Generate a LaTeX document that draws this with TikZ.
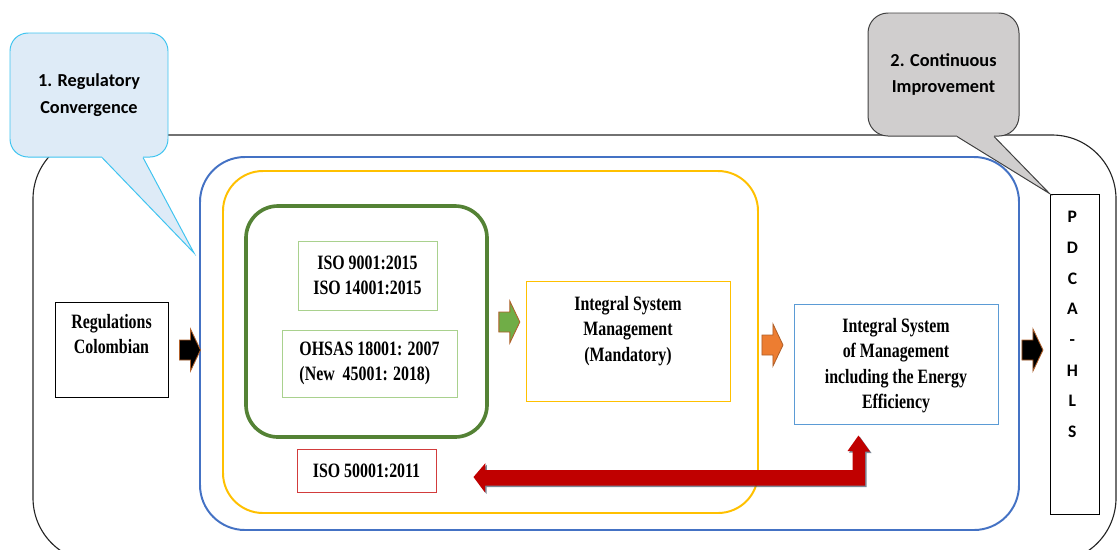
\documentclass[tikz,border=0pt]{standalone}
\usepackage{fontspec}
\setmainfont{Liberation Serif}[FakeStretch = 0.78]
\newfontfamily\calfont{Carlito}
\usepackage{tikz}
\usetikzlibrary{positioning,calc}

\definecolor{boxblue}{HTML}{4472C4}
\definecolor{boxyellow}{HTML}{FFC000}
\definecolor{boxgreen}{HTML}{548235}
\definecolor{lightgreen}{HTML}{A9D18E}
\definecolor{lightblue}{HTML}{5B9BD5}
\definecolor{isored}{HTML}{D23C3C}
\definecolor{darkred}{HTML}{C00000}
\definecolor{arrgreen}{HTML}{70AD47}
\definecolor{arrorange}{HTML}{ED7D31}
\definecolor{arredge}{HTML}{B0602A}
\definecolor{callblue}{HTML}{DEEBF7}
\definecolor{callcyan}{HTML}{3FC4F0}
\definecolor{callgray}{HTML}{D0CECE}
\definecolor{shadowblue}{HTML}{44546A}

\newcommand{\pxu}{0.025cm}

\tikzset{
  stdbox/.style = {draw, shape = rectangle, line width = 0.7pt, inner sep = 0pt},
  boxtext/.style = {font = \bfseries\fontsize{14.5}{18}\selectfont, align = center, inner sep = 0pt},
  calltext/.style = {font = \calfont\bfseries\fontsize{13}{19}\selectfont, align = center},
  blockarrow/.pic = {\path[pic actions] (-11,-10) -- (0,-10) -- (0,-21) -- (10,0) -- (0,21) -- (0,10) -- (-11,10) -- cycle;},
  redarrow/.style = {fill = darkred, preaction = {fill = shadowblue, opacity = 0.7, transform canvas = {shift = {(1.5,1.5)}}}}
}

\begin{document}
\begin{tikzpicture}[x = \pxu, y = -\pxu]
\useasboundingbox (0,0) rectangle (1118,549);

\node[stdbox, draw = black!85, line width = 0.8pt, rounded corners = 1.6cm, minimum width = 1083*\pxu, minimum height = 427*\pxu] (frame) at (574.5,348.5) {};
\node[stdbox, draw = boxblue, line width = 1.4pt, rounded corners = 1.125cm, minimum width = 819*\pxu, minimum height = 373*\pxu] (blueframe) at (609.5,343.5) {};
\node[stdbox, draw = boxyellow, line width = 1.4pt, rounded corners = 1cm, minimum width = 535*\pxu, minimum height = 342*\pxu] (yellowframe) at (490.5,342) {};
\node[stdbox, draw = boxgreen, line width = 2.6pt, rounded corners = 0.8cm, minimum width = 241*\pxu, minimum height = 231*\pxu] (greenframe) at (366.5,321.5) {};

\node[stdbox, boxtext, draw = lightgreen, minimum width = 139*\pxu, minimum height = 69*\pxu] (iso) at (367.5,275.5) {ISO 9001:2015\\ISO 14001:2015};
\node[stdbox, boxtext, align = left, draw = lightgreen, minimum width = 175*\pxu, minimum height = 67*\pxu] (ohsas) at (369.5,363.5) {OHSAS 18001: 2007\\(New\ \ 45001: 2018)};
\node[stdbox, boxtext, draw = isored, minimum width = 139*\pxu, minimum height = 43*\pxu] (iso50) at (366.5,470.5) {ISO 50001:2011};

\node[stdbox, draw = boxyellow, minimum width = 204*\pxu, minimum height = 120*\pxu] (ism) at (628,341) {};
\node[boxtext, below = 11pt of ism.north] (ismtext) {Integral System\\Management\\(Mandatory)};
\node[stdbox, draw = lightblue, minimum width = 204*\pxu, minimum height = 120*\pxu] (isem) at (896,364) {};
\node[boxtext, below = 10.3pt of isem.north] (isemtext) {Integral System\\of Management\\including the Energy\\Efficiency};
\node[stdbox, draw = black, minimum width = 113*\pxu, minimum height = 95*\pxu] (reg) at (111.5,349.5) {};
\node[boxtext, below = 8.8pt of reg.north] (regtext) {Regulations\\Colombian};
\node[stdbox, draw = black, minimum width = 49*\pxu, minimum height = 320*\pxu] (pdca) at (1074.5,354) {};
\node[font = \calfont\bfseries\fontsize{12.5}{21.8}\selectfont, align = center, inner sep = 0pt, below = 12.5pt of pdca.north, xshift = -1.5pt] (pdcatext) {P\\D\\C\\A\\-\\H\\L\\S};

\pic[fill = black, draw = arredge, line width = 0.6pt] at ($(reg.east)+(22,0.5)$) {blockarrow};
\pic[fill = arrgreen, draw = arredge, line width = 0.6pt] at ($(greenframe.east)+(21,0.5)$) {blockarrow};
\pic[fill = arrorange, draw = arredge, line width = 0.6pt] at ($(yellowframe.east)+(14,3)$) {blockarrow};
\pic[fill = black, draw = arredge, line width = 0.6pt] at ($(blueframe.east)+(13,6.5)$) {blockarrow};

\coordinate (redleft) at ($(iso50.east)+(37,6.5)$);
\coordinate (redup) at ($(isem.south)+(-37.5,11)$);
\path[redarrow] (redleft) -- ++(12,-14) -- ++(0,7) -- ++(367,0) -- ++(0,-19) -- ++(-5,0) -- (redup) -- ++(11.5,16) -- ++(-5,0) -- ++(0,34) -- ++(-380,0) -- ++(0,7) -- cycle;

\node[stdbox, draw = callcyan, fill = callblue, rounded corners = 0.45cm, minimum width = 158*\pxu, minimum height = 124*\pxu, calltext] (conv) at (89,95) {1. Regulatory\\Convergence};
\coordinate (convtip) at (194,253);
\fill[callblue] ($(conv.south)+(13.5,-3)$) -- ($(conv.south)+(13,0)$) -- (convtip) -- ($(conv.south)+(54,0)$) -- ($(conv.south)+(53.5,-3)$) -- cycle;
\draw[callcyan, line width = 0.7pt] ($(conv.south)+(13,0)$) -- (convtip) -- ($(conv.south)+(54,0)$);

\node[stdbox, draw = black!75, fill = callgray, rounded corners = 0.5cm, minimum width = 151*\pxu, minimum height = 123*\pxu, calltext] (improve) at (943.5,74.5) {2. Continuous\\Improvement};
\fill[callgray] ($(improve.south)+(14,-3)$) -- ($(improve.south)+(13.5,0)$) -- (pdca.north west) -- ($(improve.south)+(50.5,0)$) -- ($(improve.south)+(50,-3)$) -- cycle;
\draw[black!75, line width = 0.7pt] ($(improve.south)+(13.5,0)$) -- (pdca.north west) -- ($(improve.south)+(50.5,0)$);
\end{tikzpicture}
\end{document}
